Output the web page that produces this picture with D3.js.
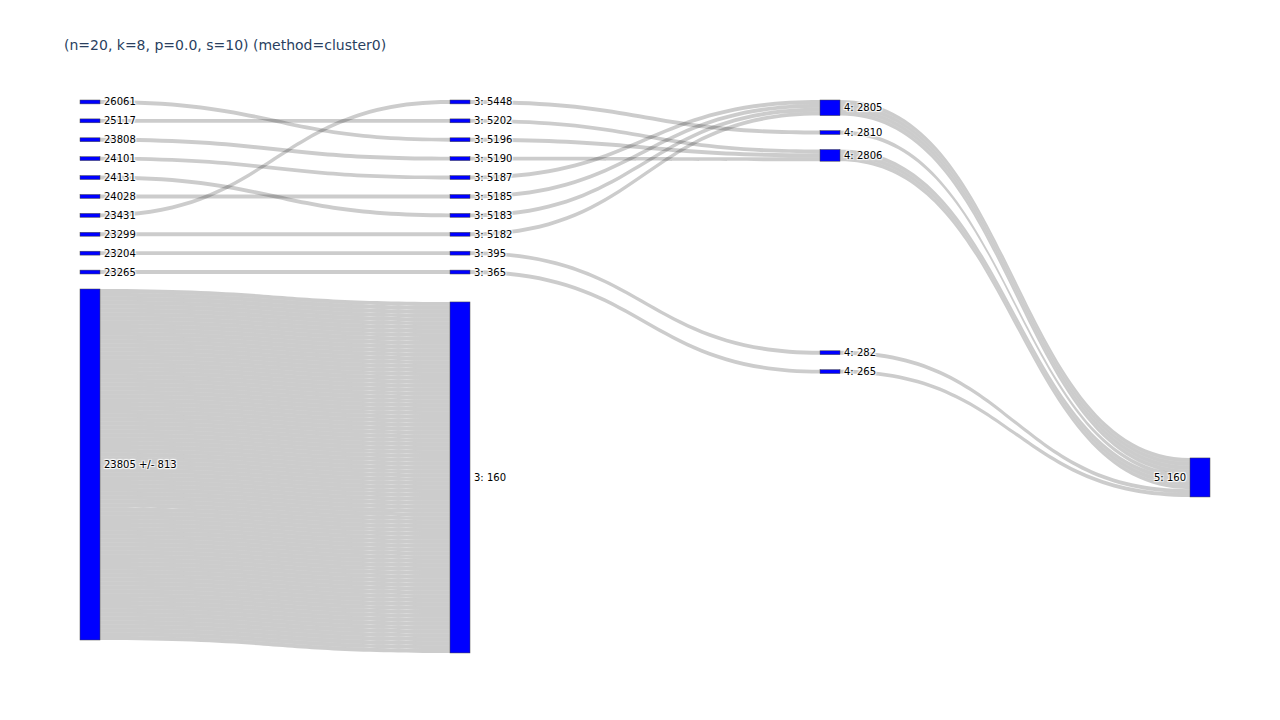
<!DOCTYPE html>
<html>
<head>
<meta charset="utf-8">
<script src="https://cdn.jsdelivr.net/npm/d3@7"></script>
<style>
  body { margin: 0; background: #fff; }
  svg { display: block; }
  .lbl {
    font-family: "DejaVu Sans", Verdana, sans-serif;
    font-size: 10px;
    fill: #000;
    text-shadow: 1px 1px 1px #fff, -1px -1px 1px #fff, 1px -1px 1px #fff, -1px 1px 1px #fff;
  }
  .title { font-family: "DejaVu Sans", Verdana, sans-serif; font-size: 14px; fill: #2a3f5f; }
</style>
</head>
<body>
<svg id="chart" width="1280" height="720"></svg>
<script>
// ---------------- DATA ----------------
const title = "(n=20, k=8, p=0.0, s=10) (method=cluster0)";

const nodeLabels = [
  "26061", "25117", "23808", "24101", "24131", "24028", "23431", "23299", "23204", "23265", "23805 +/- 813",
  "3: 5448", "3: 5202", "3: 5196", "3: 5190", "3: 5187", "3: 5185", "3: 5183", "3: 5182", "3: 395", "3: 365", "3: 160",
  "4: 2805", "4: 2810", "4: 2806", "4: 282", "4: 265",
  "5: 160"
];
const nodeLevels = [
  0, 0, 0, 0, 0, 0, 0, 0, 0, 0, 0,
  1, 1, 1, 1, 1, 1, 1, 1, 1, 1, 1,
  2, 2, 2, 2, 2,
  3
];

const linkSources = [
  "26061", "25117", "23808", "24101", "24131", "24028", "23431", "23299", "23204", "23265", "23805 +/- 813",
  "3: 5448", "3: 5202", "3: 5196", "3: 5190", "3: 5187", "3: 5185", "3: 5183", "3: 5182", "3: 395", "3: 365",
  "4: 2805", "4: 2810", "4: 2806", "4: 282", "4: 265"
];
const linkTargets = [
  "3: 5196", "3: 5202", "3: 5190", "3: 5187", "3: 5183", "3: 5185", "3: 5448", "3: 5182", "3: 395", "3: 365", "3: 160",
  "4: 2810", "4: 2806", "4: 2806", "4: 2806", "4: 2805", "4: 2805", "4: 2805", "4: 2805", "4: 282", "4: 265",
  "5: 160", "5: 160", "5: 160", "5: 160", "5: 160"
];
// number of runs following each link (each run drawn as one strand)
const linkValues = [
  1, 1, 1, 1, 1, 1, 1, 1, 1, 1, 90,
  1, 1, 1, 1, 1, 1, 1, 1, 1, 1,
  4, 1, 3, 1, 1
];

// ---------------- LAYOUT SETTINGS ----------------
// vertical anchors (node centre, fraction of plot height) like the original figure's node.y
const anchorLabels = ["3: 160", "4: 282", "4: 265", "5: 160"];
const anchorFrac = [0.699, 0.468, 0.468, 0.699];

const plot = { left: 80, right: 1210, top: 100, bottom: 640 };
const nodeWidth = 20, nodePad = 15, labelGap = 4;

// ---------------- BUILD GRAPH ----------------
const nodes = nodeLabels.map((id, i) => ({ id, level: nodeLevels[i], sourceLinks: [], targetLinks: [] }));
const byId = new Map(nodes.map(n => [n.id, n]));
const links = linkSources.map((s, i) => {
  const l = { source: byId.get(s), target: byId.get(linkTargets[i]), value: linkValues[i] };
  l.source.sourceLinks.push(l);
  l.target.targetLinks.push(l);
  return l;
});
nodes.forEach(n => {
  n.value = Math.max(d3.sum(n.sourceLinks, l => l.value), d3.sum(n.targetLinks, l => l.value));
});

const maxLevel = d3.max(nodes, n => n.level);
const x = d3.scaleLinear().domain([0, maxLevel]).range([plot.left, plot.right - nodeWidth]);
const yFrac = d3.scaleLinear().domain([0, 1]).range([plot.top, plot.bottom]);

const columns = d3.groups(nodes, n => n.level).sort((a, b) => a[0] - b[0]).map(d => d[1]);
const H = plot.bottom - plot.top;
const ky = d3.min(columns, c => (H - (c.length - 1) * nodePad) / d3.sum(c, n => n.value));
const hScale = d3.scaleLinear().domain([0, 1]).range([0, ky]);

// stack, apply anchors, resolve collisions (order preserved)
columns.forEach(col => {
  let y = plot.top;
  col.forEach(n => {
    n.x0 = x(n.level); n.x1 = n.x0 + nodeWidth;
    n.y0 = y; n.y1 = y + hScale(n.value);
    y = n.y1 + nodePad;
  });
  col.forEach(n => {
    const a = anchorLabels.indexOf(n.id);
    if (a >= 0) {
      const h = n.y1 - n.y0, c = yFrac(anchorFrac[a]);
      n.y0 = c - h / 2; n.y1 = c + h / 2;
    }
  });
  y = plot.top;
  col.forEach(n => {
    const dy = y - n.y0;
    if (dy > 0) { n.y0 += dy; n.y1 += dy; }
    y = n.y1 + nodePad;
  });
});

// link attachment offsets
nodes.forEach(n => {
  n.sourceLinks.sort((a, b) => a.target.y0 - b.target.y0);
  n.targetLinks.sort((a, b) => a.source.y0 - b.source.y0);
  let sy = n.y0;
  n.sourceLinks.forEach(l => { l.sy0 = sy; sy += hScale(l.value); });
  let ty = n.y0;
  n.targetLinks.forEach(l => { l.ty0 = ty; ty += hScale(l.value); });
});

// strands: one per run
const strands = [];
links.forEach(l => {
  d3.range(l.value).forEach(k => {
    strands.push({ link: l, s0: l.sy0 + hScale(k), t0: l.ty0 + hScale(k), w: hScale(1) });
  });
});

function strandPath(d) {
  const x0 = d.link.source.x1, x1 = d.link.target.x0;
  const xi = d3.interpolateNumber(x0, x1);
  const xa = xi(0.5), xb = xi(0.5);
  const p = d3.path();
  p.moveTo(x0, d.s0);
  p.bezierCurveTo(xa, d.s0, xb, d.t0, x1, d.t0);
  p.lineTo(x1, d.t0 + d.w);
  p.bezierCurveTo(xb, d.t0 + d.w, xa, d.s0 + d.w, x0, d.s0 + d.w);
  p.closePath();
  return p.toString();
}

// ---------------- DRAW ----------------
const svg = d3.select("#chart");

svg.append("text").attr("class", "title").attr("x", 64).attr("y", 50).text(title);

svg.append("g").selectAll("path").data(strands).join("path")
  .attr("d", strandPath)
  .attr("fill", "rgba(0,0,0,0.2)")
  .attr("stroke", "none");

svg.append("g").selectAll("rect").data(nodes).join("rect")
  .attr("x", d => d.x0).attr("y", d => d.y0)
  .attr("width", d => d.x1 - d.x0).attr("height", d => d.y1 - d.y0)
  .attr("fill", "#0000ff")
  .attr("stroke", "#444").attr("stroke-width", 0.5);

svg.append("g").selectAll("text").data(nodes).join("text")
  .attr("class", "lbl")
  .attr("x", d => d.level === maxLevel ? d.x0 - labelGap : d.x1 + labelGap)
  .attr("y", d => (d.y0 + d.y1) / 2)
  .attr("dy", "0.35em")
  .attr("text-anchor", d => d.level === maxLevel ? "end" : "start")
  .text(d => d.id);
</script>
</body>
</html>
